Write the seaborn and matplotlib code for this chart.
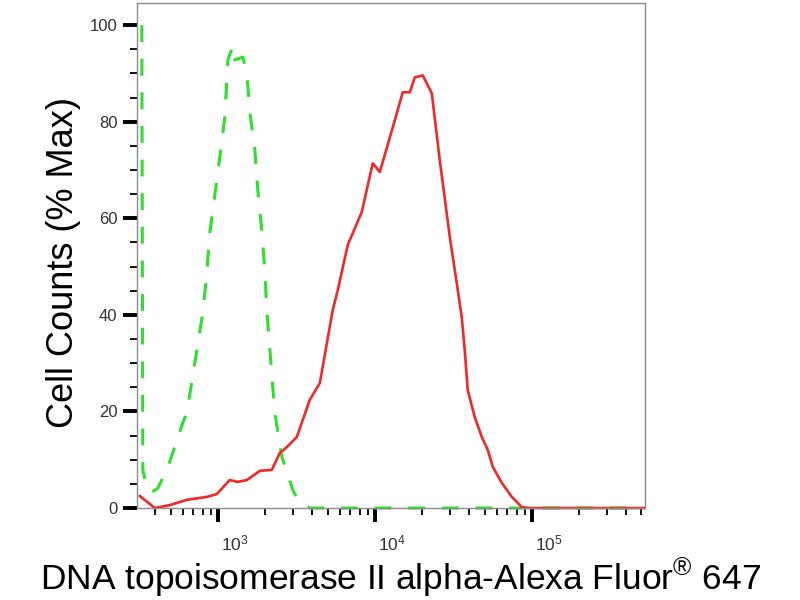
import numpy as np
import pandas as pd
import matplotlib
matplotlib.use('Agg')
import matplotlib.pyplot as plt
import matplotlib.transforms as mtransforms
import seaborn as sns
from matplotlib.ticker import LogLocator, LogFormatterSciNotation, MultipleLocator

# Fluorescence intensity (x) and % of max cell counts (y)
red_x = [318, 397, 494, 635, 851, 986, 1191, 1340, 1531, 1854, 2208, 2483, 2748,
         3184, 3855, 4467, 5395, 5808, 6730, 8260, 9705, 10765, 13030, 15070,
         16710, 17990, 20230, 23070, 25940, 30060, 33270, 35810, 37410, 39090,
         43350, 48080, 52480, 56490, 64420, 74640, 86300, 97050, 524800]
red_y = [2.5, 0, 0.6, 1.7, 2.3, 2.9, 5.8, 5.4, 5.8, 7.7, 7.9, 11.4, 12.6,
         14.7, 22.4, 25.9, 41, 45.1, 54.5, 61.3, 71.4, 69.6, 78.9, 86.1,
         86.1, 89.2, 89.6, 85.9, 72, 56.1, 46.6, 39.5, 32.7, 24.4,
         18.8, 14.7, 12, 8.5, 5.2, 2.3, 0.2, 0, 0]

green_x = [328, 333, 353, 380, 415, 481, 598, 635, 802, 851, 889, 957, 1030,
           1109, 1159, 1247, 1282, 1442, 1531, 1600, 1722, 1799, 1905, 1991,
           2051, 2307, 2559, 3006, 3327, 3855, 524800]
green_y = [100, 8, 4, 3.3, 4.1, 8.5, 17.6, 19.7, 40.4, 48.7, 56.9, 64.8, 72.7,
           81, 92.8, 95.7, 92.8, 93.4, 90.1, 82, 74.1, 65.8, 57.6, 49.3,
           41, 19.7, 10.6, 3.7, 1, 0, 0]

df_red = pd.DataFrame({'x': red_x, 'y': red_y})
df_green = pd.DataFrame({'x': green_x, 'y': green_y})

sns.set_style('ticks')
plt.rcParams['font.family'] = ['Liberation Sans', 'DejaVu Sans']
plt.rcParams['mathtext.fontset'] = 'custom'
plt.rcParams['mathtext.rm'] = 'Liberation Sans'
plt.rcParams['text.color'] = 'black'
plt.rcParams['axes.labelcolor'] = 'black'

fig = plt.figure(figsize=(8, 6), dpi=100)
ax = fig.add_axes([0.171, 0.1533, 0.635, 0.8417])
ax.set_xscale('log')

sns.lineplot(data=df_green, x='x', y='y', ax=ax, color='#2ee02e', lw=2.2,
             estimator=None, sort=False)
ax.lines[-1].set_dashes((5.5, 5.5))
sns.lineplot(data=df_red, x='x', y='y', ax=ax, color='#f02828', lw=1.9,
             estimator=None, sort=False)
for ln in ax.lines:
    ln.set_clip_on(False)

ax.set_xlim(10 ** 2.484, 10 ** 5.72)
ax.set_ylim(0, 104.6)

ax.xaxis.set_major_locator(LogLocator(base=10, numticks=10))
ax.xaxis.set_minor_locator(LogLocator(base=10, subs=np.arange(2, 10), numticks=20))
ax.xaxis.set_major_formatter(LogFormatterSciNotation())
ax.yaxis.set_major_locator(MultipleLocator(20))
ax.yaxis.set_minor_locator(MultipleLocator(5))

ax.tick_params(axis='both', which='major', direction='out', length=10, width=2.8,
               color='black', labelsize=12, labelcolor='#333333', pad=4)
ax.tick_params(axis='both', which='minor', direction='out', length=5, width=1.3,
               color='black')
ax.tick_params(axis='x', which='major', labelsize=12.5, pad=8)

# FlowJo-style: decade labels sit just right of their tick
fig.canvas.draw()
offset = mtransforms.ScaledTranslation(2 / 72, 0, fig.dpi_scale_trans)
for lab in ax.get_xticklabels():
    lab.set_horizontalalignment('left')
    lab.set_transform(lab.get_transform() + offset)

for s in ax.spines.values():
    s.set_color('#8c8c8c')
    s.set_linewidth(1.0)

ax.set_xlabel('DNA topoisomerase II alpha-Alexa Fluor$^{\u00ae}$ 647', fontsize=25.5, labelpad=2)
ax.set_ylabel('Cell Counts (% Max)', fontsize=26, labelpad=6)
ax.xaxis.label.set_x(0.52)
ax.yaxis.label.set_y(0.486)

plt.savefig('out.png', dpi=100)
plt.close()
